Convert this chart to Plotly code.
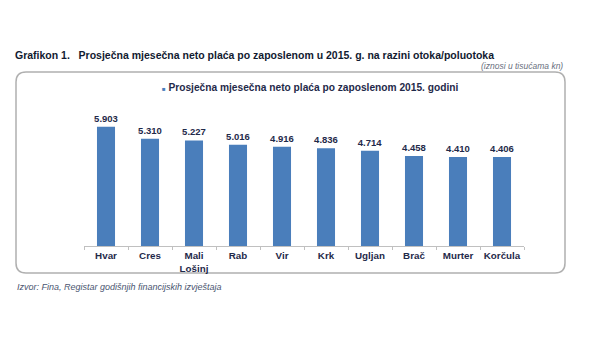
import plotly.graph_objects as go

categories = ["Hvar", "Cres", "Mali<br>Lošinj", "Rab", "Vir", "Krk", "Ugljan", "Brač", "Murter", "Korčula"]
values = [5.903, 5.310, 5.227, 5.016, 4.916, 4.836, 4.714, 4.458, 4.410, 4.406]
value_labels = ["5.903", "5.310", "5.227", "5.016", "4.916", "4.836", "4.714", "4.458", "4.410", "4.406"]
series_name = "Prosječna mjesečna neto plaća po zaposlenom 2015. godini"
title_text = "Grafikon 1.   Prosječna mjesečna neto plaća po zaposlenom u 2015. g. na razini otoka/poluotoka"
unit_text = "(iznosi u tisućama kn)"
source_text = "Izvor: Fina, Registar godišnjih financijskih izvještaja"

W, H = 600, 342
L, R, T, B = 84, 76, 100, 96
pw, ph = W - L - R, H - T - B
FONT = "Liberation Sans, Arial, sans-serif"
NAVY = "#1f2a4a"
BAR = "#4a7ebb"


def px(x):
    return (x - L) / pw


def py(y):
    return (H - B - y) / ph


fig = go.Figure()
fig.add_trace(go.Bar(
    x=categories, y=values, name=series_name,
    marker=dict(color=BAR, line=dict(width=0)),
    text=value_labels, textposition="outside", constraintext="none",
    textfont=dict(family=FONT, size=9.5, color=NAVY, weight="bold"),
    cliponaxis=False, showlegend=False,
))

# rounded frame
x0, x1, y0, y1, r = 16, 565, 72, 273, 10
path = (
    f"M {px(x0 + r)},{py(y0)} L {px(x1 - r)},{py(y0)} "
    f"Q {px(x1)},{py(y0)} {px(x1)},{py(y0 + r)} "
    f"L {px(x1)},{py(y1 - r)} Q {px(x1)},{py(y1)} {px(x1 - r)},{py(y1)} "
    f"L {px(x0 + r)},{py(y1)} Q {px(x0)},{py(y1)} {px(x0)},{py(y1 - r)} "
    f"L {px(x0)},{py(y0 + r)} Q {px(x0)},{py(y0)} {px(x0 + r)},{py(y0)} Z"
)
fig.add_shape(type="path", path=path, xref="paper", yref="paper",
              line=dict(color="#b0b0b0", width=1.5), layer="below")

fig.add_annotation(
    text=f"<span style='color:{BAR};font-size:6px'>■</span> {series_name}",
    x=px(160), y=py(87), xref="paper", yref="paper", xanchor="left", yanchor="middle",
    showarrow=False, font=dict(family=FONT, size=10.2, color=NAVY, weight="bold"))
fig.add_annotation(
    text=unit_text, x=px(565), y=py(66), xref="paper", yref="paper",
    xanchor="right", yanchor="middle", showarrow=False,
    font=dict(family=FONT, size=8.5, color="#6a7080", style="italic"))
fig.add_annotation(
    text=source_text, x=px(15), y=py(287), xref="paper", yref="paper",
    xanchor="left", yanchor="middle", showarrow=False,
    font=dict(family=FONT, size=9, color="#4a5570", style="italic"))

fig.update_layout(
    width=W, height=H,
    margin=dict(l=L, r=R, t=T, b=B, pad=0),
    paper_bgcolor="white", plot_bgcolor="white",
    bargap=0.59,
    title=dict(text=title_text, x=15 / W, xanchor="left", xref="container",
               y=1 - 55 / H, yanchor="middle", yref="container",
               font=dict(family=FONT, size=10.5, color="#111a30", weight="bold")),
    xaxis=dict(showline=True, linecolor="#c0c0c0", linewidth=1,
               ticks="outside", tickson="boundaries", ticklen=3, tickcolor="#c0c0c0",
               tickangle=0,
               tickfont=dict(family=FONT, size=9.8, color=NAVY, weight="bold"),
               showgrid=False, fixedrange=True),
    yaxis=dict(range=[0, ph / 20.19], visible=False, showgrid=False),
    font=dict(family=FONT),
)

fig.write_html("out.html")
